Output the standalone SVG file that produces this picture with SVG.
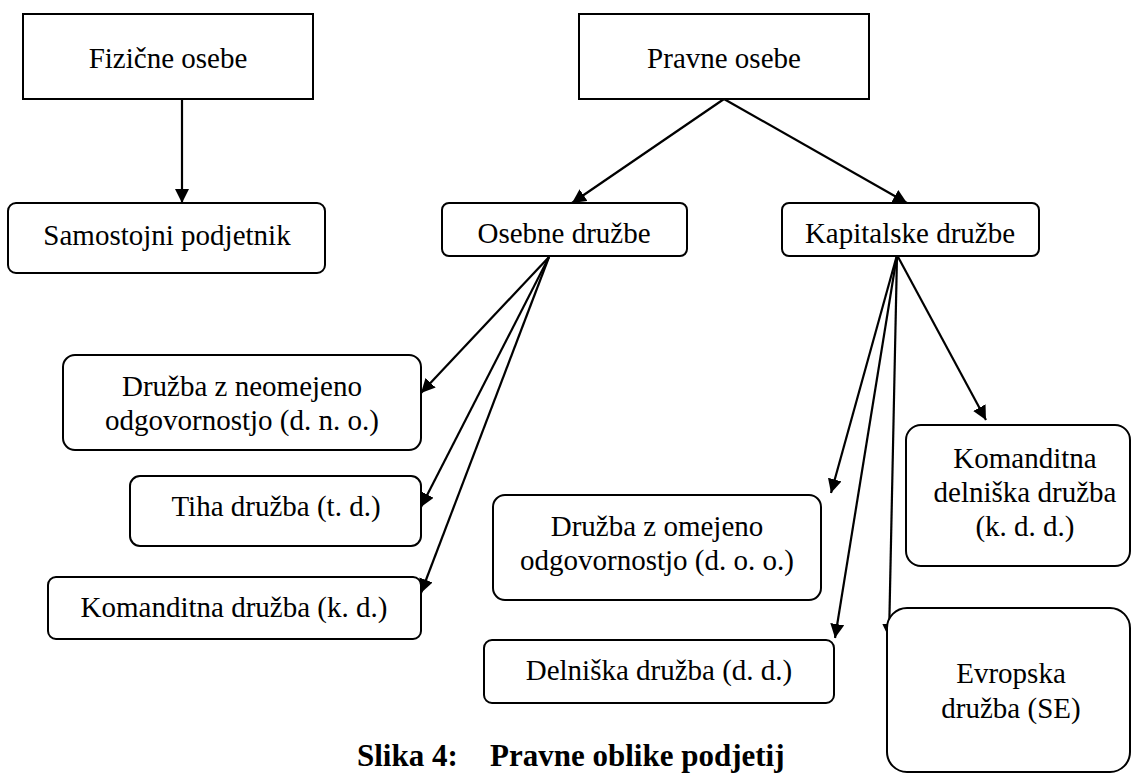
<svg xmlns="http://www.w3.org/2000/svg" width="1132" height="774" viewBox="0 0 1132 774">
<style>
.box{fill:#fff;stroke:#000;stroke-width:2}
.t{font-family:"Liberation Serif","Times New Roman",serif;font-size:29px;fill:#000;text-anchor:middle}
.cap{font-family:"Liberation Serif","Times New Roman",serif;font-size:31px;font-weight:bold;fill:#000}
.c{stroke:#000;stroke-width:2.2;fill:none;marker-end:url(#ah)}
</style>
<defs>
<marker id="ah" markerUnits="userSpaceOnUse" markerWidth="15" markerHeight="15" refX="14" refY="7" orient="auto">
<path d="M0,0 L14,7 L0,14 z" fill="#000"/>
</marker>
</defs>
<rect width="1132" height="774" fill="#fff"/>
<g id="connectors">
<line class="c" x1="182" y1="99" x2="182" y2="203"/>
<line class="c" x1="724" y1="99" x2="572" y2="203"/>
<line class="c" x1="724" y1="99" x2="907" y2="203"/>
<line class="c" x1="549" y1="257" x2="421" y2="393"/>
<line class="c" x1="549" y1="257" x2="421" y2="507"/>
<line class="c" x1="549" y1="257" x2="421" y2="593"/>
<line class="c" x1="897" y1="255" x2="986" y2="420"/>
<line class="c" x1="897" y1="255" x2="831" y2="493"/>
<line class="c" x1="897" y1="255" x2="835" y2="638"/>
<line class="c" x1="897" y1="255" x2="889" y2="638"/>
</g>
<g id="fizicne">
<rect class="box" x="23" y="14" width="290" height="85"/>
<text class="t" x="168" y="68">Fizične osebe</text>
</g>
<g id="pravne">
<rect class="box" x="579" y="14" width="290" height="85"/>
<text class="t" x="724" y="68">Pravne osebe</text>
</g>
<g id="samostojni">
<rect class="box" x="8" y="203" width="317" height="70" rx="8"/>
<text class="t" x="167" y="245">Samostojni podjetnik</text>
</g>
<g id="osebne">
<rect class="box" x="442" y="203" width="245" height="53" rx="7"/>
<text class="t" x="564" y="243">Osebne družbe</text>
</g>
<g id="kapitalske">
<rect class="box" x="782" y="203" width="257" height="53" rx="7"/>
<text class="t" x="910" y="243">Kapitalske družbe</text>
</g>
<g id="dno">
<rect class="box" x="63" y="355" width="358" height="95" rx="12"/>
<text class="t" x="242" y="396">Družba z neomejeno</text>
<text class="t" x="242" y="430">odgovornostjo (d. n. o.)</text>
</g>
<g id="td">
<rect class="box" x="130" y="476" width="291" height="70" rx="10"/>
<text class="t" x="276" y="516">Tiha družba (t. d.)</text>
</g>
<g id="kd">
<rect class="box" x="48" y="577" width="373" height="62" rx="8"/>
<text class="t" x="234" y="617">Komanditna družba (k. d.)</text>
</g>
<g id="doo">
<rect class="box" x="493" y="495" width="328" height="105" rx="12"/>
<text class="t" x="657" y="536">Družba z omejeno</text>
<text class="t" x="657" y="570">odgovornostjo (d. o. o.)</text>
</g>
<g id="dd">
<rect class="box" x="484" y="640" width="350" height="63" rx="8"/>
<text class="t" x="659" y="680">Delniška družba (d. d.)</text>
</g>
<g id="kdd">
<rect class="box" x="906" y="425" width="224" height="141" rx="15"/>
<text class="t" x="1025" y="468">Komanditna</text>
<text class="t" x="1025" y="502">delniška družba</text>
<text class="t" x="1025" y="536">(k. d. d.)</text>
</g>
<g id="se">
<rect class="box" x="887" y="608" width="243" height="164" rx="20"/>
<text class="t" x="1011" y="683">Evropska</text>
<text class="t" x="1011" y="718">družba (SE)</text>
</g>
<g id="caption">
<text class="cap" x="357" y="766">Slika 4:</text>
<text class="cap" x="490" y="766">Pravne oblike podjetij</text>
</g>
</svg>
